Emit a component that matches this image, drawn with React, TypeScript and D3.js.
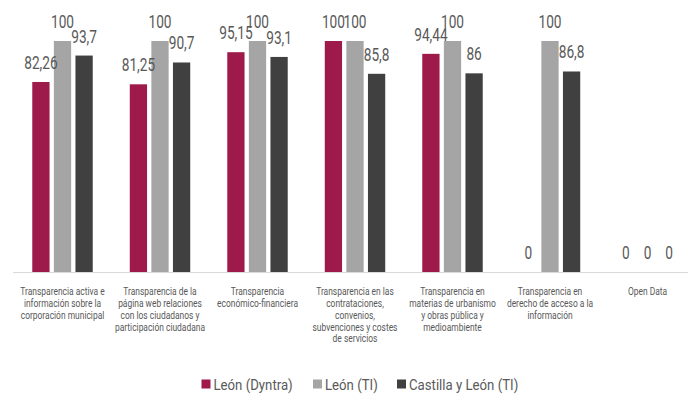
import React, { useEffect, useRef } from "react";
import * as d3 from "d3";

const categories = [
  "Transparencia activa e\ninformación sobre la\ncorporación municipal",
  "Transparencia de la\npágina web relaciones\ncon los ciudadanos y\nparticipación ciudadana",
  "Transparencia\neconómico-financiera",
  "Transparencia en las\ncontrataciones,\nconvenios,\nsubvenciones y costes\nde servicios",
  "Transparencia en\nmaterias de urbanismo\ny obras pública y\nmedioambiente",
  "Transparencia en\nderecho de acceso a la\ninformación",
  "Open Data",
];
const seriesNames = ["León (Dyntra)", "León (TI)", "Castilla y León (TI)"];
const leonDyntra = [82.26, 81.25, 95.15, 100, 94.44, 0, 0];
const leonTI = [100, 100, 100, 100, 100, 100, 0];
const castillaTI = [93.7, 90.7, 93.1, 85.8, 86, 86.8, 0];
const colors = ["#9E1A4A", "#A5A5A5", "#404040"];

const W = 688;
const H = 405;
const FONT = "Roboto, sans-serif";

export default function App() {
  const ref = useRef<SVGSVGElement>(null);
  useEffect(() => {
    const svg = d3.select(ref.current);
    svg.selectAll("*").remove();
    const series = [leonDyntra, leonTI, castillaTI];
    const x0 = d3
      .scaleBand<number>()
      .domain(d3.range(categories.length))
      .range([13.75, 696.25])
      .paddingInner(0.38)
      .paddingOuter(0.19);
    const x1 = d3
      .scaleBand<number>()
      .domain(d3.range(series.length))
      .range([0, x0.bandwidth()])
      .paddingInner(0.2);
    const y = d3.scaleLinear().domain([0, 100]).range([272, 41]);

    // axis line
    svg
      .append("line")
      .attr("x1", 13)
      .attr("x2", W)
      .attr("y1", y(0) + 0.5)
      .attr("y2", y(0) + 0.5)
      .attr("stroke", "#D9D9D9")
      .attr("stroke-width", 1);

    const g = svg
      .selectAll("g.grp")
      .data(categories)
      .enter()
      .append("g")
      .attr("transform", (_, i) => `translate(${x0(i)},0)`);

    series.forEach((vals, si) => {
      g.append("rect")
        .attr("x", x1(si)!)
        .attr("width", x1.bandwidth())
        .attr("y", (_, i) => y(vals[i]))
        .attr("height", (_, i) => y(0) - y(vals[i]))
        .attr("fill", colors[si]);
    });
    series.forEach((vals, si) => {
      g.append("g")
        .attr(
          "transform",
          (_, i) =>
            `translate(${x1(si)! + x1.bandwidth() / 2},${y(vals[i]) - 13}) scale(0.76,1)`
        )
        .append("text")
        .attr("text-anchor", "middle")
        .attr("font-family", FONT)
        .attr("font-size", 18)
        .attr("fill", "#595959")
        .text((_, i) => String(vals[i]).replace(".", ","));
    });

    // category labels
    g.append("g")
      .attr("transform", `translate(${x0.bandwidth() / 2},0) scale(0.82,1)`)
      .append("text")
      .attr("font-family", FONT)
      .attr("font-size", 10.3)
      .attr("fill", "#595959")
      .attr("text-anchor", "middle")
      .each(function (d) {
        const t = d3.select(this);
        d.split("\n").forEach((line, li) => {
          t.append("tspan")
            .attr("x", 0)
            .attr("y", 295.5 + li * 11.7)
            .text(line);
        });
      });

    // legend
    const legX = [201.5, 313, 397];
    seriesNames.forEach((name, si) => {
      svg
        .append("rect")
        .attr("x", legX[si])
        .attr("y", 379.5)
        .attr("width", 9)
        .attr("height", 9)
        .attr("fill", colors[si]);
      svg
        .append("g")
        .attr("transform", `translate(${legX[si] + 12},389.5) scale(0.91,1)`)
        .append("text")
        .attr("font-family", FONT)
        .attr("font-size", 14.5)
        .attr("fill", "#595959")
        .text(name);
    });
  }, []);
  return (
    <svg
      ref={ref}
      width={W}
      height={H}
      style={{ position: "absolute", left: 0, top: 0, background: "#fff" }}
    />
  );
}
